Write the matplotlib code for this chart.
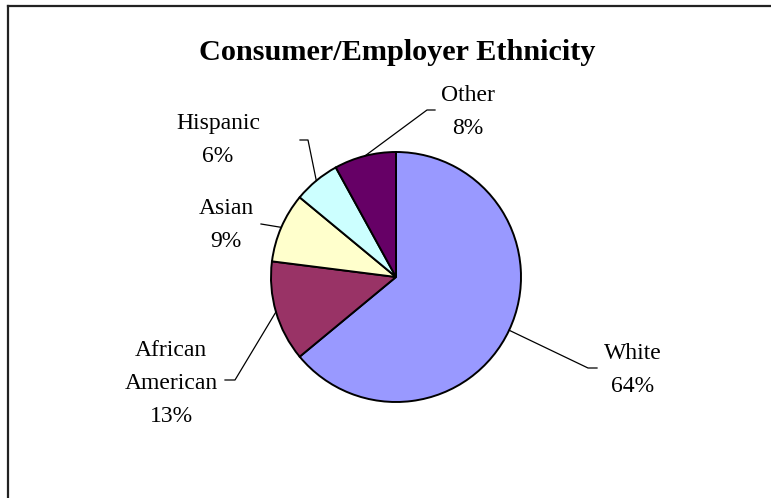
import matplotlib.pyplot as plt
import numpy as np
from matplotlib.lines import Line2D

plt.rcParams["font.family"] = ["Liberation Serif", "DejaVu Serif"]

TITLE = "Consumer/Employer Ethnicity"
LABELS = ["White", "African\nAmerican", "Asian", "Hispanic", "Other"]
SHARES = [64, 13, 9, 6, 8]
COLORS = ["#9999FF", "#993366", "#FFFFCC", "#CCFFFF", "#660066"]

W, H = 771, 498
CX, CY, R = 396, 277, 125

# label block centres and leader elbows, in pixels from the top-left corner
LABEL_POS = [(633, 370), (171, 383), (226, 225), (218, 140), (468, 112)]
ELBOWS = [[(597, 368), (588, 368)], [(225, 380), (235, 380)], [(261, 224), (261, 224)],
          [(300, 140), (308, 140)], [(435, 110), (427, 110)]]


def px(x, y):
    return (x - CX) / R, (CY - y) / R


fig = plt.figure(figsize=(W / 100, H / 100), dpi=100, facecolor="white")
ax = fig.add_axes([0, 0, 1, 1])

wedges, _ = ax.pie(SHARES, colors=COLORS, startangle=90, counterclock=False, radius=1,
                   wedgeprops=dict(edgecolor="black", linewidth=1.4))

ax.set_aspect("auto")
ax.set_xlim(-CX / R, (W - CX) / R)
ax.set_ylim(-(H - CY) / R, CY / R)
ax.set_autoscale_on(False)
ax.axis("off")

for wedge, label, share, pos, elbow in zip(wedges, LABELS, SHARES, LABEL_POS, ELBOWS):
    ang = np.deg2rad((wedge.theta1 + wedge.theta2) / 2)
    edge = (np.cos(ang), np.sin(ang))
    p0, p1 = px(*elbow[0]), px(*elbow[1])
    ax.plot([p0[0], p1[0], edge[0]], [p0[1], p1[1], edge[1]], color="black", lw=0.9)
    tx, ty = px(*pos)
    ax.text(tx, ty, f"{label}\n{share}%", ha="center", va="center",
            fontsize=17, linespacing=1.75, multialignment="center")

tx, ty = px(397, 53)
ax.text(tx, ty, TITLE, ha="center", va="center", fontsize=21.8, fontweight="bold")

# chart area frame: only the top and left edges fall inside the canvas
fig.add_artist(Line2D([8 / W, 1], [1 - 6 / H, 1 - 6 / H], transform=fig.transFigure,
                      color="#222222", lw=1.6))
fig.add_artist(Line2D([8 / W, 8 / W], [0, 1 - 6 / H], transform=fig.transFigure,
                      color="#222222", lw=1.6))

fig.savefig("out.png", dpi=100, facecolor="white")
